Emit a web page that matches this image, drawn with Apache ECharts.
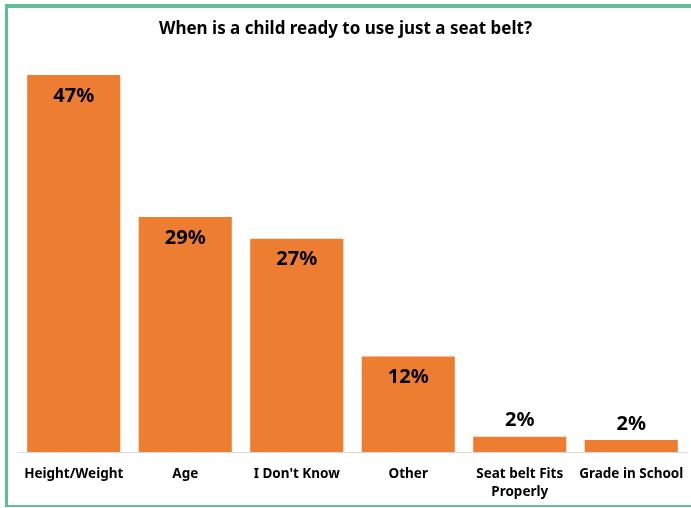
<!DOCTYPE html>
<html>
<head>
<meta charset="utf-8">
<script src="https://cdn.jsdelivr.net/npm/echarts@6/dist/echarts.min.js"></script>
<style>
  html, body { margin: 0; padding: 0; background: #fff; overflow: hidden; }
  #frame {
    position: absolute;
    left: 5px;
    top: 4px;
    width: 720px;
    height: 497px;
    border-top: 4px solid #5dbe98;
    border-left: 3px solid #5dbe98;
    border-bottom: 2px solid #5dbe98;
  }
  #chart { position: absolute; left: 0; top: 0; width: 691px; height: 508px; }
</style>
</head>
<body>
<div id="frame"></div>
<div id="chart"></div>
<script>
// categories and shares (%)
var categories = ['Height/Weight', 'Age', "I Don't Know", 'Other', 'Seat belt Fits\nProperly', 'Grade in School']
var shares = [47, 29.3, 26.6, 11.9, 1.9, 1.5]

var myChart = echarts.init(document.getElementById('chart'))

var option = {
  animation: false,
  title: {
    text: 'When is a child ready to use just a seat belt?',
    left: 'center',
    top: 16,
    textStyle: {
      fontFamily: 'Noto Sans',
      fontSize: 17,
      fontWeight: 'bold',
      color: '#000'
    }
  },
  grid: {
    left: 18,
    right: 4,
    top: 51,
    bottom: 56
  },
  xAxis: {
    type: 'category',
    data: categories,
    axisLine: { lineStyle: { color: '#d9d9d9', width: 1 } },
    axisTick: { show: false },
    axisLabel: {
      interval: 0,
      margin: 13,
      color: '#000',
      fontFamily: 'Noto Sans',
      fontSize: 13.5,
      fontWeight: 'bold',
      lineHeight: 18
    }
  },
  yAxis: {
    type: 'value',
    min: 0,
    max: 50,
    show: false,
    splitLine: { show: false }
  },
  series: [
    {
      type: 'bar',
      barCategoryGap: '16.5%',
      itemStyle: { color: '#ed7d31' },
      label: {
        show: true,
        color: '#000',
        fontFamily: 'Noto Sans',
        fontSize: 20,
        fontWeight: 'bold',
        formatter: function (p) {
          return Math.round(p.value) + '%'
        }
      },
      data: shares.map(function (v) {
        // small bars get their label above the bar
        if (v < 5) {
          return { value: v, label: { position: 'top', distance: 6 } }
        }
        return { value: v, label: { position: 'insideTop', distance: 11 } }
      })
    }
  ]
}

myChart.setOption(option)
</script>
</body>
</html>
